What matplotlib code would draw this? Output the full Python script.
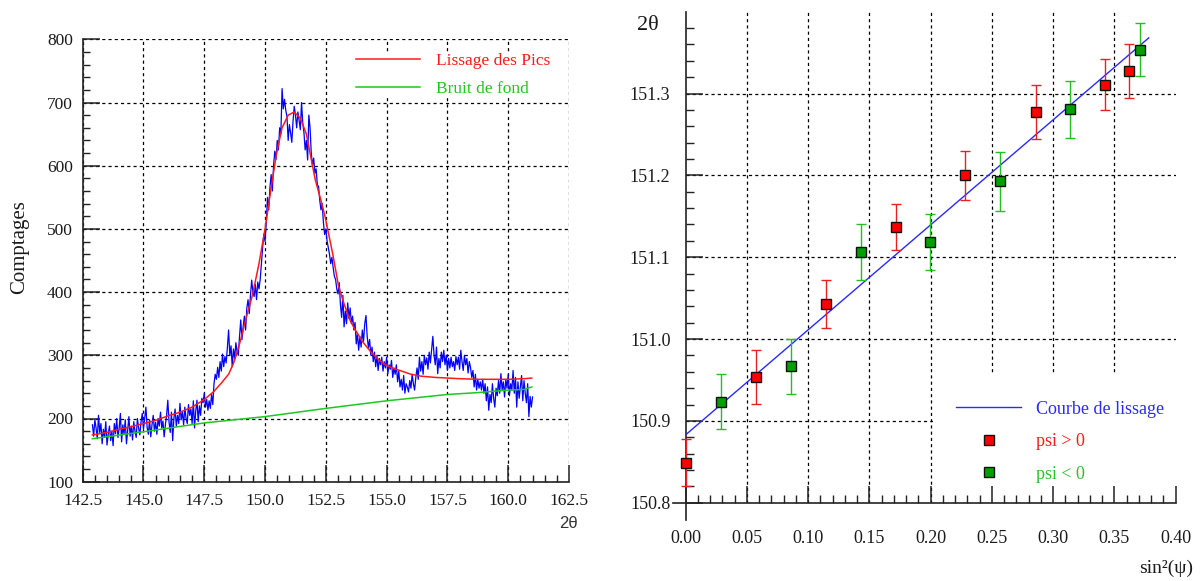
import numpy as np
import matplotlib
matplotlib.use("Agg")
import matplotlib.pyplot as plt
from matplotlib.ticker import MultipleLocator, FixedLocator
from matplotlib.lines import Line2D
from matplotlib.patches import Rectangle

plt.rcParams['font.family'] = ['Liberation Serif', 'DejaVu Serif']

# ---------------- Left panel data: diffraction scan ----------------
scan_start = 142.90
scan_step = 0.05
counts = [
    190, 172, 198, 185, 168, 205, 178, 192, 160, 183, 170, 195, 158, 175, 188, 165, 180, 157, 192, 176,
    200, 170, 185, 208, 163, 190, 175, 198, 160, 182, 203, 172, 188, 166, 195, 180, 170, 200, 185, 174,
    195, 208, 183, 200, 218, 186, 175, 198, 171, 190, 205, 180, 194, 175, 200, 188, 210, 185, 196, 171,
    190, 205, 229, 195, 178, 210, 165, 200, 215, 188, 205, 192, 224, 198, 210, 190, 218, 200, 192, 222,
    205, 215, 192, 228, 185, 212, 229, 195, 220, 205, 232, 225, 240, 218, 230, 213, 228, 216, 238, 222,
    255, 270, 262, 281, 265, 290, 275, 302, 282, 298, 288, 312, 340, 300, 315, 282, 310, 295, 320, 305,
    300, 330, 356, 325, 345, 362, 340, 375, 388, 366, 395, 419, 400, 393, 412, 388, 416, 405, 420, 445,
    470, 492, 480, 510, 550, 530, 565, 586, 560, 600, 623, 610, 640, 625, 660, 650, 722, 690, 705, 688,
    678, 640, 665, 652, 637, 670, 694, 680, 660, 685, 672, 657, 700, 668, 652, 625, 640, 609, 680, 660,
    620, 600, 612, 588, 595, 570, 567, 545, 530, 540, 510, 491, 500, 481, 470, 460, 445, 455, 439, 425,
    420, 405, 397, 415, 380, 360, 395, 345, 370, 350, 383, 358, 375, 350, 362, 340, 352, 318, 335, 308,
    330, 313, 340, 322, 350, 363, 330, 312, 325, 300, 313, 290, 305, 282, 300, 276, 295, 285, 297, 275,
    290, 280, 297, 271, 285, 278, 292, 265, 280, 270, 285, 258, 275, 250, 262, 245, 268, 240, 255, 250,
    242, 260, 248, 270, 255, 245, 265, 280, 262, 297, 275, 290, 270, 300, 285, 296, 278, 305, 288, 310,
    330, 300, 285, 313, 271, 295, 280, 305, 290, 308, 285, 300, 276, 295, 280, 297, 282, 290, 276, 298,
    285, 297, 278, 308, 290, 276, 300, 285, 295, 272, 290, 281, 265, 276, 250, 270, 245, 262, 248, 258,
    245, 262, 240, 255, 228, 250, 213, 238, 225, 255, 232, 218, 248, 236, 260, 240, 271, 245, 258, 234,
    262, 248, 270, 236, 255, 245, 276, 240, 265, 218, 258, 232, 250, 268, 228, 260, 240, 225, 255, 203,
    235, 218, 234,
]
two_theta = scan_start + scan_step * np.arange(len(counts))

fit_tt = [142.9, 143.5, 144.0, 144.5, 145.0, 145.5, 146.0, 146.5, 147.0, 147.5, 147.9, 148.2,
          148.5, 148.7, 148.85, 149.0, 149.16, 149.3, 149.48, 149.75, 150.0, 150.25, 150.47,
          150.7, 150.95, 151.2, 151.45, 151.7, 151.9, 152.07, 152.3, 152.47, 152.78, 153.02,
          153.26, 153.5, 153.73, 154.0, 154.36, 154.7, 154.99, 155.3, 155.62, 156.0, 156.41,
          157.0, 157.51, 158.0, 158.77, 159.5, 160.0, 160.66, 160.97]
fit_counts = [174, 178, 183, 187, 192, 197, 204, 210, 218, 230, 243, 256,
              270, 287, 305, 325, 350, 370, 395, 445, 500, 565, 619,
              660, 680, 685, 675, 650, 610, 577, 545, 519, 461, 410,
              380, 355, 339, 322, 305, 292, 284, 279, 275, 270, 267,
              265, 264, 263, 262, 262, 262, 263, 264]

bg_tt = [142.9, 145.0, 147.5, 150.0, 152.5, 155.0, 157.5, 158.75, 160.0, 160.66, 160.97]
bg_counts = [168, 179, 193, 203, 216, 228, 238, 241, 245, 246, 250]

# ---------------- Right panel data: sin^2(psi) ----------------
pos_sin2 = [0.0, 0.0572, 0.1147, 0.1716, 0.2284, 0.2856, 0.3425, 0.3622]
pos_2theta = [150.849, 150.9535, 151.043, 151.137, 151.200, 151.278, 151.311, 151.3275]
pos_err = [0.0286, 0.033, 0.029, 0.028, 0.030, 0.033, 0.0315, 0.033]

neg_sin2 = [0.0288, 0.0859, 0.1428, 0.1997, 0.2569, 0.3141, 0.3709]
neg_2theta = [150.9236, 150.9665, 151.106, 151.1186, 151.193, 151.2806, 151.3537]
neg_err = [0.034, 0.034, 0.034, 0.034, 0.036, 0.035, 0.032]

line_sin2 = [0.0, 0.378]
line_2theta = [150.883, 151.368]

W, H = 1204, 581
fig = plt.figure(figsize=(W / 100, H / 100), dpi=100)

tick_col = '#1a1a1a'
grid_ls = (0, (2.5, 2.5))

# ================= Left panel =================
ax1 = fig.add_axes([82.7 / W, 1 - 481.7 / H, (569 - 82.7) / W, (481.7 - 39.3) / H])
ax1.plot(two_theta, counts, color='#0000ff', lw=0.9, zorder=3)
ax1.plot(fit_tt, fit_counts, color='#ff1a1a', lw=1.1, zorder=4)
ax1.plot(bg_tt, bg_counts, color='#1ec81e', lw=1.1, zorder=4)
ax1.set_xlim(142.5, 162.5)
ax1.set_ylim(100, 800)
ax1.xaxis.set_major_locator(MultipleLocator(2.5))
ax1.xaxis.set_minor_locator(MultipleLocator(0.5))
ax1.yaxis.set_major_locator(MultipleLocator(100))
ax1.yaxis.set_minor_locator(MultipleLocator(20))
ax1.xaxis.set_major_formatter(plt.FuncFormatter(lambda v, p: f"{v:.1f}"))
ax1.grid(True, which='major', color='k', ls=grid_ls, lw=0.9)
for s in ['top', 'right']:
    ax1.spines[s].set_visible(False)
for s in ['left', 'bottom']:
    ax1.spines[s].set_linewidth(1.2)
    ax1.spines[s].set_color('#222222')
ax1.tick_params(which='major', direction='in', length=12.5, width=1.1, labelsize=12.5,
                colors='#222222', labelcolor=tick_col)
ax1.tick_params(which='minor', direction='in', length=5, width=1.0, colors='#222222')
ax1.tick_params(axis='x', pad=8)
ax1.tick_params(axis='y', pad=7)

h1 = [Line2D([], [], color='#ff1a1a', lw=1.1), Line2D([], [], color='#1ec81e', lw=1.1)]
leg1 = ax1.legend(h1, ['Lissage des Pics', 'Bruit de fond'], loc='upper left',
                  bbox_to_anchor=(356 / W, 1 - 52.5 / H), bbox_transform=fig.transFigure,
                  frameon=True, facecolor='white', edgecolor='none', framealpha=1, fancybox=False,
                  borderpad=0.0, borderaxespad=0, handlelength=3.67, handletextpad=0.94,
                  labelspacing=0.69, fontsize=12.5)
for t, c in zip(leg1.get_texts(), ['#ff1a1a', '#1ec81e']):
    t.set_color(c)

fig.text(20 / W, 1 - 247 / H, 'Comptages', rotation=90, ha='center', va='center',
         fontsize=15, color=tick_col)
fig.text(568.5 / W, 1 - 523 / H, '2θ', ha='center', va='center', fontsize=12,
         family=['Liberation Sans', 'DejaVu Sans'], color='#333333')

# ================= Right panel =================
ax2 = fig.add_axes([685.7 / W, 1 - 502.7 / H, (1175.7 - 685.7) / W, (502.7 - 11.7) / H])
ax2.set_xlim(0, 0.40)
ax2.set_ylim(150.8, 151.4)
ax2.xaxis.set_major_locator(MultipleLocator(0.05))
ax2.xaxis.set_minor_locator(MultipleLocator(0.01))
ax2.yaxis.set_major_locator(FixedLocator([150.8, 150.9, 151.0, 151.1, 151.2, 151.3]))
ax2.yaxis.set_minor_locator(FixedLocator(np.round(np.arange(150.82, 151.39, 0.02), 2)))
ax2.xaxis.set_major_formatter(plt.FuncFormatter(lambda v, p: f"{v:.2f}"))
ax2.yaxis.set_major_formatter(plt.FuncFormatter(lambda v, p: f"{v:.1f}"))

for xv in [0.05, 0.10, 0.15, 0.20, 0.25, 0.30, 0.35]:
    ax2.axvline(xv, color='k', ls=grid_ls, lw=0.9, zorder=1)
for yv in [150.9, 151.0, 151.1, 151.2, 151.3]:
    ax2.axhline(yv, color='k', ls=grid_ls, lw=0.9, zorder=1)
ax2.add_patch(Rectangle((0.504, 0.0), 0.496, 0.26, transform=ax2.transAxes,
                        facecolor='white', edgecolor='none', zorder=1.2))

ax2.plot(line_sin2, line_2theta, color='#2a2aff', lw=1.0, zorder=3)
e1 = ax2.errorbar(pos_sin2, pos_2theta, yerr=pos_err, fmt='none', ecolor='#e82020',
                  elinewidth=1.0, capsize=3.3, capthick=1.0, zorder=4)
e2 = ax2.errorbar(neg_sin2, neg_2theta, yerr=neg_err, fmt='none', ecolor='#22c022',
                  elinewidth=1.0, capsize=3.3, capthick=1.0, zorder=4)
for eb in (e1, e2):
    for art in eb.lines[1] + eb.lines[2]:
        art.set_clip_on(False)
ax2.plot(pos_sin2, pos_2theta, ls='none', marker='s', ms=6.5, mfc='#ff0000',
         mec='#111111', mew=1.0, zorder=5, clip_on=False)
ax2.plot(neg_sin2, neg_2theta, ls='none', marker='s', ms=6.5, mfc='#00a000',
         mec='#111111', mew=1.0, zorder=5, clip_on=False)

for s in ['top', 'right']:
    ax2.spines[s].set_visible(False)
for s in ['left', 'bottom']:
    ax2.spines[s].set_linewidth(1.2)
    ax2.spines[s].set_color('#222222')
ax2.spines['left'].set_bounds(150.779, 151.4)
ax2.spines['bottom'].set_bounds(-0.0106, 0.40)
ax2.tick_params(which='major', direction='in', length=12.5, width=1.1, labelsize=13,
                colors='#222222', labelcolor=tick_col)
ax2.tick_params(which='minor', direction='in', length=6, width=1.0, colors='#222222')
ax2.tick_params(axis='x', pad=20)
ax2.tick_params(axis='y', pad=11)

h2 = [Line2D([], [], color='#2a2aff', lw=1.0),
      Line2D([], [], ls='none', marker='s', ms=6.5, mfc='#ff0000', mec='#111111', mew=1.0),
      Line2D([], [], ls='none', marker='s', ms=6.5, mfc='#00a000', mec='#111111', mew=1.0)]
leg2 = ax2.legend(h2, ['Courbe de lissage', 'psi > 0', 'psi < 0'], loc='upper left',
                  bbox_to_anchor=(956 / W, 1 - 400.5 / H), bbox_transform=fig.transFigure,
                  frameon=False, borderpad=0, borderaxespad=0, handlelength=3.6,
                  handletextpad=0.83, labelspacing=0.86, fontsize=13)
for t, c in zip(leg2.get_texts(), ['#2a2aff', '#ff1a1a', '#2ec02e']):
    t.set_color(c)

fig.text(648 / W, 1 - 25 / H, '2θ', ha='center', va='center', fontsize=16, color=tick_col)
fig.text(1166 / W, 1 - 568 / H, 'sin²(ψ)', ha='center', va='center', fontsize=14, color=tick_col)

fig.savefig('out.png', dpi=100)
